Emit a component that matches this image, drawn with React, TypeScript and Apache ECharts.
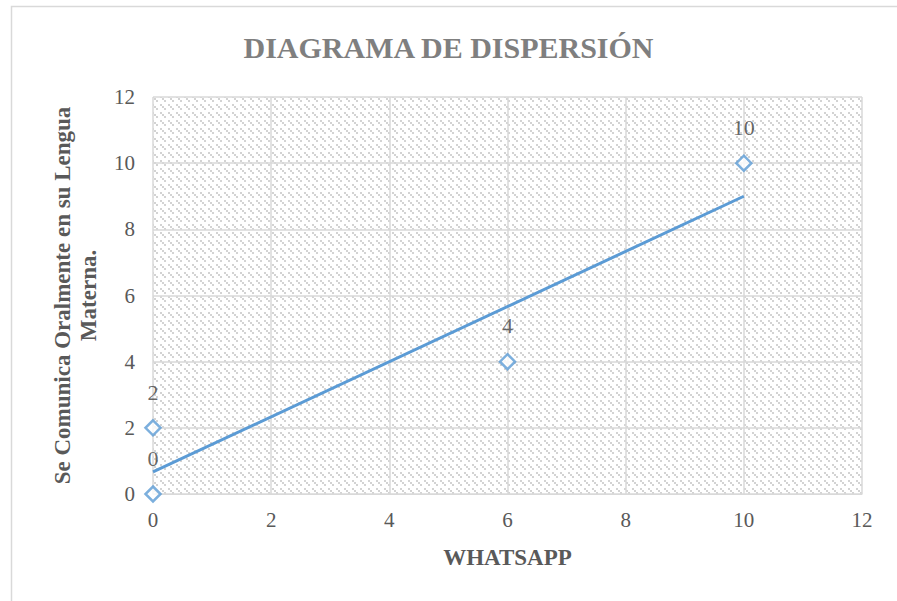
import React, { useEffect, useRef } from "react";
import * as echarts from "echarts";

const titleText = "DIAGRAMA DE DISPERSIÓN";
const xAxisName = "WHATSAPP";
const yAxisName = "Se Comunica Oralmente en su Lengua\nMaterna.";
const xValues = [0, 0, 6, 10];
const yValues = [0, 2, 4, 10];
const axisMin = 0;
const axisMax = 12;
const axisStep = 2;

const FONT = "Liberation Serif";
const BLUE = "#5b9bd5";

function makePattern(): HTMLCanvasElement {
  const c = document.createElement("canvas");
  c.width = 8;
  c.height = 8;
  const ctx = c.getContext("2d")!;
  ctx.fillStyle = "#ffffff";
  ctx.fillRect(0, 0, 8, 8);
  ctx.fillStyle = "#d3d3d3";
  // 2x2 blocks along a downward diagonal, with a gap
  for (let k = 0; k < 3; k++) {
    ctx.fillRect(k * 2, k * 2, 2, 2);
  }
  return c;
}

export default function App() {
  const ref = useRef<HTMLDivElement>(null);
  useEffect(() => {
    if (!ref.current) return;
    const chart = echarts.init(ref.current, undefined, { renderer: "svg" });
    const n = xValues.length;
    const mx = xValues.reduce((a, b) => a + b, 0) / n;
    const my = yValues.reduce((a, b) => a + b, 0) / n;
    let sxx = 0;
    let sxy = 0;
    for (let i = 0; i < n; i++) {
      sxx += (xValues[i] - mx) ** 2;
      sxy += (xValues[i] - mx) * (yValues[i] - my);
    }
    const slope = sxy / sxx;
    const intercept = my - slope * mx;
    const xLo = Math.min(...xValues);
    const xHi = Math.max(...xValues);
    const trend = [
      [xLo, intercept + slope * xLo],
      [xHi, intercept + slope * xHi],
    ];
    const pattern = makePattern();
    chart.setOption({
      animation: false,
      backgroundColor: "#ffffff",
      graphic: [
        {
          type: "rect",
          shape: { x: 11.5, y: 6.5, width: 1000, height: 1000 },
          style: { fill: "none", stroke: "#d9d9d9", lineWidth: 1.5 },
          silent: true,
        },
      ],
      title: {
        text: titleText,
        left: "center",
        top: 27,
        textStyle: {
          fontFamily: FONT,
          fontSize: 30,
          fontWeight: "bold",
          color: "#7f7f7f",
        },
      },
      grid: {
        left: 153,
        right: 35,
        top: 97,
        bottom: 107,
        show: true,
        borderWidth: 0,
        backgroundColor: { image: pattern, repeat: "repeat" },
      },
      xAxis: {
        type: "value",
        min: axisMin,
        max: axisMax,
        interval: axisStep,
        name: xAxisName,
        nameLocation: "middle",
        nameGap: 52,
        nameTextStyle: {
          fontFamily: FONT,
          fontSize: 23,
          fontWeight: "bold",
          color: "#595959",
        },
        axisLine: { show: true, lineStyle: { color: "#d9d9d9", width: 1 } },
        axisTick: { show: false },
        axisLabel: {
          fontFamily: FONT,
          fontSize: 21,
          color: "#595959",
          margin: 15,
        },
        splitLine: { show: true, lineStyle: { color: "#d9d9d9", width: 1.5 } },
      },
      yAxis: {
        type: "value",
        min: axisMin,
        max: axisMax,
        interval: axisStep,
        name: yAxisName,
        nameLocation: "middle",
        nameGap: 52,
        nameTextStyle: {
          fontFamily: FONT,
          fontSize: 23,
          fontWeight: "bold",
          color: "#595959",
          lineHeight: 26,
        },
        axisLine: { show: false },
        axisTick: { show: false },
        axisLabel: {
          fontFamily: FONT,
          fontSize: 21,
          color: "#595959",
          margin: 18,
        },
        splitLine: { show: true, lineStyle: { color: "#d9d9d9", width: 1.5 } },
      },
      series: [
        {
          type: "line",
          data: trend,
          showSymbol: false,
          symbol: "none",
          lineStyle: { color: BLUE, width: 3 },
          silent: true,
          z: 2,
        },
        {
          type: "scatter",
          data: xValues.map((x, i) => [x, yValues[i]]),
          symbol: "diamond",
          symbolSize: [15, 15],
          itemStyle: { color: "#ffffff", borderColor: BLUE, borderWidth: 2.5 },
          label: {
            show: true,
            position: "top",
            distance: 16,
            formatter: (p: any) => String(p.value[1]),
            fontFamily: FONT,
            fontSize: 22,
            color: "#404040",
          },
          z: 3,
        },
      ],
    });
    return () => chart.dispose();
  }, []);
  return (
    <div
      ref={ref}
      style={{ width: 897, height: 601, position: "absolute", left: 0, top: 0 }}
    />
  );
}
